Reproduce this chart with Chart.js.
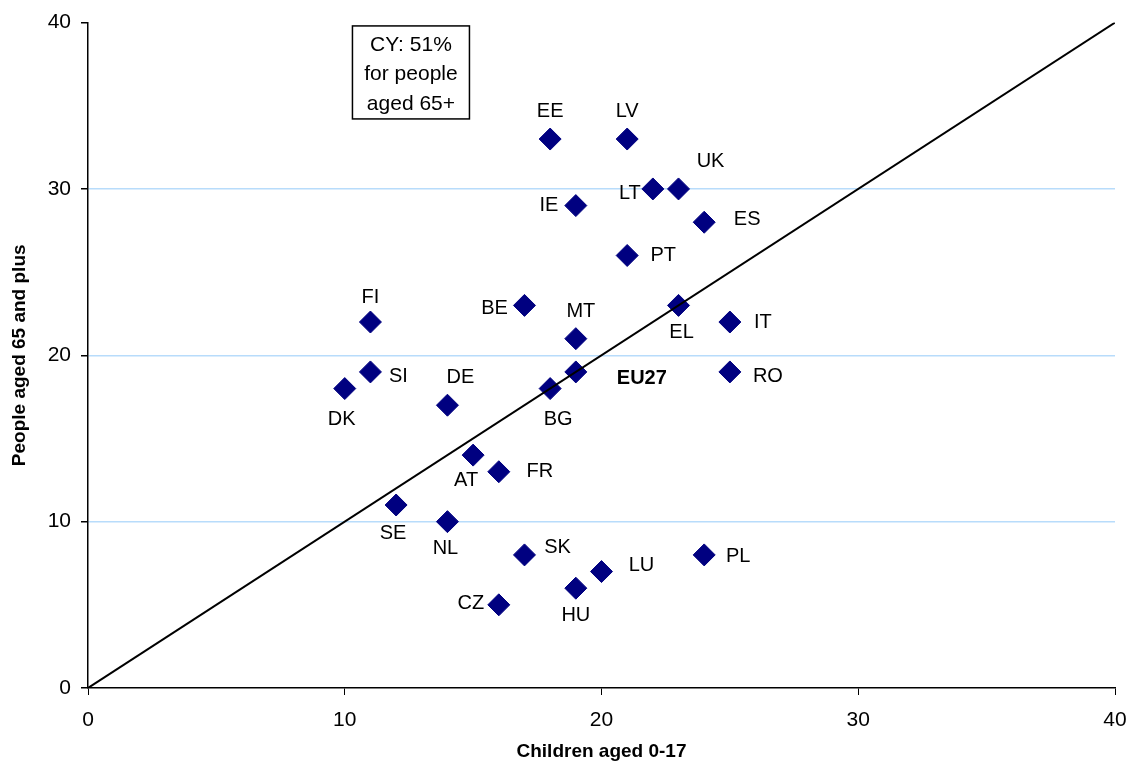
<!DOCTYPE html>
<html>
<head>
<meta charset="utf-8">
<script src="https://cdn.jsdelivr.net/npm/chart.js@4.4.1/dist/chart.umd.min.js"></script>
<style>
  html, body { margin: 0; padding: 0; background: #fff; }
  #wrap { width: 1133px; height: 763px; position: relative; }
</style>
</head>
<body>
<div id="wrap"><canvas id="scatterChart"></canvas></div>
<script>
// Data
const countries = ['EE','LV','UK','LT','IE','ES','PT','BE','MT','EL','FI','IT','SI','EU27','RO','DK','BG','DE','AT','FR','SE','NL','SK','PL','LU','HU','CZ'];
const children  = [18, 21, 23, 22, 19, 24, 21, 17, 19, 23, 11, 25, 11, 19, 25, 10, 18, 14, 15, 16, 12, 14, 17, 24, 20, 19, 16];
const elderly   = [33, 33, 30, 30, 29, 28, 26, 23, 21, 23, 22, 22, 19, 19, 19, 18, 18, 17, 14, 13, 11, 10, 8, 8, 7, 6, 5];
const axisTicks = [0, 10, 20, 30, 40];
const noteLines = ['CY: 51%', 'for people', 'aged 65+'];

// label placement relative to each marker (px)
const labelOffsets = {
    EE: [0, -28], LV: [0, -28], UK: [32, -27], LT: [-23, 5], IE: [-27, 0],
    ES: [43, -3], PT: [36, 0], BE: [-30, 3], MT: [5, -27], EL: [3, 27],
    FI: [0, -25], IT: [33, 0], SI: [28, 5], EU27: [66, 7], RO: [38, 5],
    DK: [-3, 31], BG: [8, 31], DE: [13, -28], AT: [-7, 25], FR: [41, 0],
    SE: [-3, 28], NL: [-2, 27], SK: [33, -7], PL: [34, 2], LU: [40, -6],
    HU: [0, 27], CZ: [-28, -1]
};

const FONT = '"Liberation Sans", Arial, sans-serif';

const points = countries.map(function(c, i) {
    return { x: children[i], y: elderly[i] };
});

// Skriv landekoder og note-boksen direkte på canvas
const labelPlugin = {
    id: 'pointLabels',
    afterDatasetsDraw: function(chart) {
        const ctx = chart.ctx;
        const meta = chart.getDatasetMeta(1);
        ctx.save();
        ctx.fillStyle = '#000';
        ctx.textAlign = 'center';
        ctx.textBaseline = 'middle';
        meta.data.forEach(function(el, i) {
            const code = countries[i];
            const off = labelOffsets[code] || [0, -25];
            ctx.font = (code === 'EU27' ? 'bold ' : '') + '20px ' + FONT;
            ctx.fillText(code, el.x + off[0], el.y + off[1]);
        });

        // note box
        const xs = chart.scales.x;
        const ys = chart.scales.y;
        const bx = xs.getPixelForValue(10.3);
        const by = ys.getPixelForValue(39.8);
        const bw = 117, bh = 93;
        ctx.fillStyle = '#fff';
        ctx.fillRect(bx, by, bw, bh);
        ctx.strokeStyle = '#000';
        ctx.lineWidth = 1.5;
        ctx.strokeRect(bx, by, bw, bh);
        ctx.fillStyle = '#000';
        ctx.font = '21px ' + FONT;
        noteLines.forEach(function(line, k) {
            ctx.fillText(line, bx + bw / 2, by + 19 + k * 29.5);
        });
        ctx.restore();
    }
};

const ctx = document.getElementById('scatterChart').getContext('2d');

new Chart(ctx, {
    type: 'scatter',
    data: {
        datasets: [
            {
                label: 'diagonal',
                data: [{ x: 0, y: 0 }, { x: 40, y: 40 }],
                showLine: true,
                borderColor: '#000',
                borderWidth: 2,
                pointRadius: 0,
                pointHoverRadius: 0
            },
            {
                label: 'countries',
                data: points,
                pointStyle: 'rectRot',
                pointRadius: 11,
                pointHoverRadius: 11,
                backgroundColor: '#000080',
                borderColor: '#000080',
                borderWidth: 1
            }
        ]
    },
    options: {
        responsive: true,
        maintainAspectRatio: false,
        animation: false,
        layout: { padding: { left: 0, right: 18, top: 22, bottom: 0 } },
        plugins: {
            legend: { display: false },
            tooltip: { enabled: false }
        },
        scales: {
            x: {
                type: 'linear',
                min: 0,
                max: 40,
                afterBuildTicks: function(scale) {
                    scale.ticks = axisTicks.map(function(v) { return { value: v }; });
                },
                afterFit: function(scale) {
                    scale.height = 75;
                    scale.paddingLeft = 0;
                    scale.paddingRight = 12;
                },
                grid: {
                    drawOnChartArea: false,
                    tickLength: 7,
                    tickColor: '#000'
                },
                border: { color: '#000', width: 1.5 },
                ticks: {
                    color: '#000',
                    font: { family: FONT, size: 21 },
                    padding: 13,
                    maxRotation: 0
                },
                title: {
                    display: true,
                    text: 'Children aged 0-17',
                    color: '#000',
                    font: { family: FONT, size: 19, weight: 'bold' },
                    padding: { top: 0, bottom: 0 }
                }
            },
            y: {
                type: 'linear',
                min: 0,
                max: 40,
                afterBuildTicks: function(scale) {
                    scale.ticks = axisTicks.map(function(v) { return { value: v }; });
                },
                afterFit: function(scale) {
                    scale.width = 88;
                },
                grid: {
                    color: function(c) {
                        return (c.index === 0 || c.index === axisTicks.length - 1) ? 'rgba(0,0,0,0)' : '#b8dcfb';
                    },
                    lineWidth: 1.5,
                    tickLength: 7,
                    tickColor: '#000'
                },
                border: { color: '#000', width: 1.5 },
                ticks: {
                    color: '#000',
                    font: { family: FONT, size: 21 },
                    padding: 10
                },
                title: {
                    display: true,
                    text: 'People aged 65 and plus',
                    color: '#000',
                    font: { family: FONT, size: 19, weight: 'bold' },
                    padding: { top: 8, bottom: 0 }
                }
            }
        }
    },
    plugins: [labelPlugin]
});
</script>
</body>
</html>
